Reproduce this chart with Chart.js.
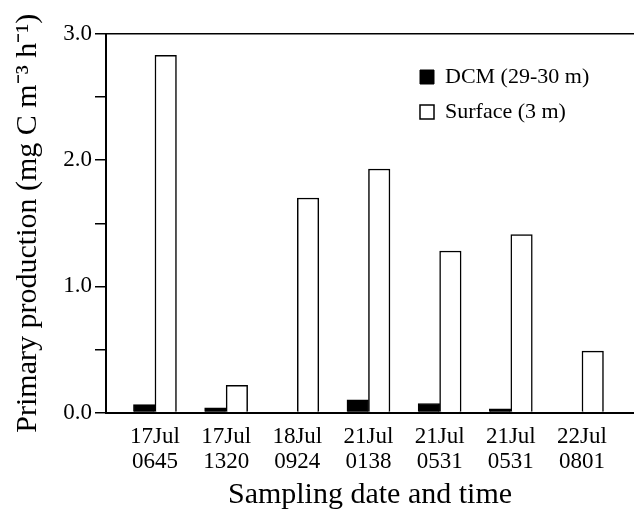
<!DOCTYPE html>
<html>
<head>
<meta charset="utf-8">
<script src="https://cdn.jsdelivr.net/npm/chart.js@4"></script>
<style>
  html, body { margin: 0; padding: 0; background: #fff; }
  #wrap { width: 634px; height: 520px; }
</style>
</head>
<body>
<div id="wrap"><canvas id="grafico" width="634" height="520"></canvas></div>
<script>
// Dados
const datas = ['17Jul', '17Jul', '18Jul', '21Jul', '21Jul', '21Jul', '22Jul'];
const horas = ['0645', '1320', '0924', '0138', '0531', '0531', '0801'];
const dcm = [0.063, 0.037, 0, 0.10, 0.071, 0.029, 0];
const superficie = [2.83, 0.215, 1.70, 1.93, 1.28, 1.41, 0.487];

const serif = "'Liberation Serif', 'Times New Roman', serif";

// legenda dentro da área do gráfico, no canto superior direito
const moverLegenda = {
    id: 'moverLegenda',
    afterLayout(chart) {
        const lg = chart.legend;
        if (!lg) return;
        lg.left = 407;
        lg.top = 53;
    }
};

const ctx = document.getElementById('grafico').getContext('2d');

new Chart(ctx, {
    type: 'bar',
    data: {
        datasets: [
            {
                label: 'DCM (29-30 m)',
                data: dcm.map((v, i) => ({ x: i, y: v })),
                backgroundColor: '#000',
                borderColor: '#000',
                borderWidth: 1
            },
            {
                label: 'Surface (3 m)',
                data: superficie.map((v, i) => ({ x: i, y: v })),
                backgroundColor: '#fff',
                borderColor: '#000',
                borderWidth: 1.5
            }
        ]
    },
    plugins: [moverLegenda],
    options: {
        responsive: false,
        animation: false,
        barThickness: 21.5,
        layout: { padding: { top: 34, right: 0, left: 0, bottom: 0 } },
        plugins: {
            tooltip: { enabled: false },
            legend: {
                position: 'chartArea',
                align: 'start',
                labels: {
                    boxWidth: 14,
                    boxHeight: 14,
                    padding: 13,
                    color: '#000',
                    font: { size: 22, family: serif }
                }
            }
        },
        scales: {
            x: {
                type: 'linear',
                offset: false,
                min: -0.688,
                max: 6.731,
                afterBuildTicks: (axis) => {
                    axis.ticks = datas.map((_, i) => ({ value: i }));
                },
                afterFit: (scale) => { scale.height = 107.5; },
                grid: { display: false, drawTicks: false, offset: false },
                border: { display: true, color: '#000', width: 2 },
                ticks: {
                    autoSkip: false,
                    maxRotation: 0,
                    padding: 12,
                    color: '#000',
                    font: { size: 23, family: serif, lineHeight: 1.1 },
                    callback: (v) => [datas[v], horas[v]]
                },
                title: {
                    display: true,
                    text: 'Sampling date and time',
                    color: '#000',
                    font: { size: 30, family: serif },
                    padding: { top: 0, bottom: 7 }
                }
            },
            y: {
                min: 0,
                max: 3,
                afterFit: (scale) => { scale.width = 106; },
                grid: {
                    drawOnChartArea: true,
                    color: (c) => (c.tick && c.tick.value === 3 ? '#000' : 'rgba(0,0,0,0)'),
                    tickColor: '#000',
                    tickLength: 11,
                    lineWidth: 1.5
                },
                border: { display: true, color: '#000', width: 2 },
                ticks: {
                    stepSize: 0.5,
                    padding: 3,
                    color: '#000',
                    font: { size: 23, family: serif },
                    callback: (v) => (v % 1 === 0 ? v.toFixed(1) : '')
                },
                title: {
                    display: true,
                    text: 'Primary production (mg C m\u207B\u00B3 h\u207B\u00B9)',
                    color: '#000',
                    font: { size: 30, family: serif },
                    padding: { top: 10, bottom: 0 }
                }
            }
        }
    }
});
</script>
</body>
</html>
